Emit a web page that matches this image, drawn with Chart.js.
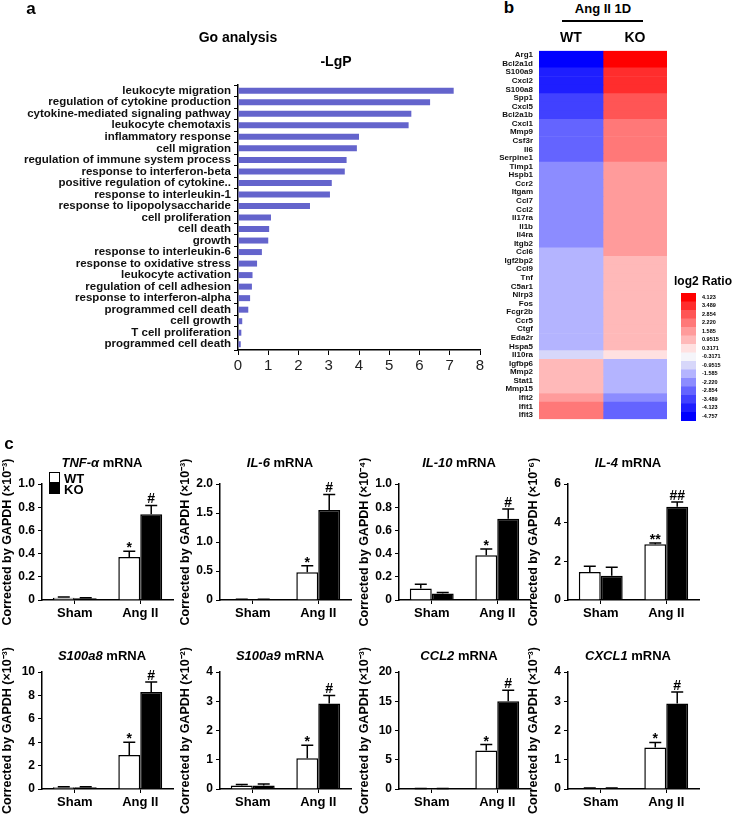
<!DOCTYPE html>
<html>
<head>
<meta charset="utf-8">
<script src="https://cdn.jsdelivr.net/npm/chart.js@4/dist/chart.umd.min.js"></script>
<style>
  body { margin: 0; background: #fff; }
  #fig { position: relative; width: 734px; height: 819px; overflow: hidden; background: #fff;
         font-family: 'Liberation Sans', Arial, sans-serif; color: #000; }
  #fig canvas { position: absolute; }
  .t { position: absolute; font-weight: bold; white-space: nowrap; line-height: 1; z-index: 2; }
  .box { position: absolute; width: 9px; height: 9px; border: 1.5px solid #000; z-index: 2; }
</style>
</head>
<body>
<div id="fig"></div>
<script>
// ---- panel a: GO analysis ----
const goTerms = [
  'leukocyte migration', 'regulation of cytokine production', 'cytokine-mediated signaling pathway',
  'leukocyte chemotaxis', 'inflammatory response', 'cell migration', 'regulation of immune system process',
  'response to interferon-beta', 'positive regulation of cytokine..', 'response to interleukin-1',
  'response to lipopolysaccharide', 'cell proliferation', 'cell death', 'growth', 'response to interleukin-6',
  'response to oxidative stress', 'leukocyte activation', 'regulation of cell adhesion',
  'response to interferon-alpha', 'programmed cell death', 'cell growth', 'T cell proliferation',
  'programmed cell death'
];
const goScores = [7.13, 6.35, 5.73, 5.64, 4.0, 3.93, 3.59, 3.53, 3.1, 3.04, 2.38, 1.09, 1.03, 1.0,
                  0.79, 0.63, 0.48, 0.46, 0.4, 0.34, 0.14, 0.11, 0.09];
const goTicks = [0, 1, 2, 3, 4, 5, 6, 7, 8];

// ---- panel b: heatmap ----
const genes = ['Arg1', 'Bcl2a1d', 'S100a9', 'Cxcl2', 'S100a8', 'Spp1', 'Cxcl5', 'Bcl2a1b', 'Cxcl1', 'Mmp9',
  'Csf3r', 'Il6', 'Serpine1', 'Timp1', 'Hspb1', 'Ccr2', 'Itgam', 'Ccl7', 'Ccl2', 'Il17ra', 'Il1b', 'Il4ra',
  'Itgb2', 'Ccl6', 'Igf2bp2', 'Ccl9', 'Tnf', 'C5ar1', 'Nlrp3', 'Fos', 'Fcgr2b', 'Ccr5', 'Ctgf', 'Eda2r',
  'Hspa5', 'Il10ra', 'Igfbp6', 'Mmp2', 'Stat1', 'Mmp15', 'Ifit2', 'Ifit1', 'Ifit3'];
const wtLog2 = [-4.7, -4.6, -4.1, -4.0, -4.0, -3.5, -3.4, -3.4, -2.9, -2.8, -2.8, -2.8, -2.8,
  -2.2, -2.2, -2.2, -2.2, -2.2, -2.2, -2.2, -2.2, -2.2, -2.2, -1.6,
  -1.6, -1.6, -1.6, -1.6, -1.6, -1.6, -1.6, -1.6, -1.6, -1.6, -1.6, -0.95,
  0.95, 0.95, 0.95, 0.95, 1.6, 2.2, 2.2];
const koLog2 = [4.3, 4.2, 3.5, 3.5, 3.4, 2.9, 2.8, 2.8, 2.2, 2.2, 2.2, 2.2, 2.2,
  1.6, 1.6, 1.6, 1.6, 1.6, 1.6, 1.6, 1.6, 1.6, 1.6, 1.6,
  0.95, 0.95, 0.95, 0.95, 0.95, 0.95, 0.95, 0.95, 0.95, 0.95, 0.95, 0.32,
  -1.6, -1.6, -1.6, -1.6, -2.2, -2.9, -2.9];
const ratioLevels = [4.123, 3.489, 2.854, 2.220, 1.585, 0.9515, 0.3171, -0.3171, -0.9515, -1.585,
  -2.220, -2.854, -3.489, -4.123, -4.757];
const ratioLabels = ['4.123', '3.489', '2.854', '2.220', '1.585', '0.9515', '0.3171', '-0.3171', '-0.9515',
  '-1.585', '-2.220', '-2.854', '-3.489', '-4.123', '-4.757'];
const ratioColors = ['#ff0000', '#ff2d2d', '#ff5555', '#ff7878', '#ff9b9b', '#ffb9b9', '#ffe1e1', '#f5f5fa',
  '#d7d7fa', '#b4b4ff', '#8c8cff', '#6464ff', '#4141ff', '#1e1eff', '#0000ff'];

// ---- panel c: qPCR ----
const groups = ['Sham', 'Ang II'];
const qGenes = ['TNF-α', 'IL-6', 'IL-10', 'IL-4', 'S100a8', 'S100a9', 'CCL2', 'CXCL1'];
const qExp = ['⁻³', '⁻³', '⁻⁴', '⁻⁶', '⁻³', '⁻²', '⁻³', '⁻³'];
const wtMean = [[0.02, 0.37], [0.01, 0.48], [0.10, 0.385], [1.45, 2.88], [0.15, 2.9], [0.12, 1.05], [0.05, 6.6], [0.02, 1.42]];
const wtSem  = [[0.005, 0.05], [0.003, 0.11], [0.035, 0.055], [0.3, 0.07], [0.05, 1.1], [0.03, 0.45], [0.02, 1.0], [0.01, 0.17]];
const koMean = [[0.015, 0.74], [0.01, 1.55], [0.055, 0.70], [1.25, 4.82], [0.15, 8.3], [0.12, 2.92], [0.05, 15.0], [0.02, 2.92]];
const koSem  = [[0.004, 0.075], [0.003, 0.27], [0.01, 0.085], [0.45, 0.25], [0.05, 0.85], [0.05, 0.28], [0.02, 1.9], [0.01, 0.4]];
const wtMarks = [['', '*'], ['', '*'], ['', '*'], ['', '**'], ['', '*'], ['', '*'], ['', '*'], ['', '*']];
const koMarks = [['', '#'], ['', '#'], ['', '#'], ['', '##'], ['', '#'], ['', '#'], ['', '#'], ['', '#']];
const yMax  = [1, 2, 1, 6, 10, 4, 20, 4];
const yStep = [0.2, 0.5, 0.2, 2, 2, 1, 5, 1];
const yDec  = [1, 1, 1, 0, 0, 0, 0, 0];

const FONT = "'Liberation Sans', Arial, sans-serif";
Chart.defaults.font.family = FONT;
Chart.defaults.color = '#000';
Chart.defaults.animation = false;

const fig = document.getElementById('fig');
function addCanvas(x, y, w, h) {
  const c = document.createElement('canvas');
  c.width = w; c.height = h;
  c.style.left = x + 'px'; c.style.top = y + 'px';
  c.style.width = w + 'px'; c.style.height = h + 'px';
  fig.appendChild(c);
  return c;
}
function addText(html, x, y, size, anchor) {
  const d = document.createElement('div');
  d.className = 't';
  d.innerHTML = html;
  d.style.fontSize = size + 'px';
  d.style.left = x + 'px'; d.style.top = y + 'px';
  d.style.transform = anchor === 'left' ? 'translate(0,-50%)' : 'translate(-50%,-50%)';
  fig.appendChild(d);
  return d;
}

// panel a
addText('a', 31, 8, 17, 'center');
addText('Go analysis', 238, 37, 14);
addText('-LgP', 336, 61, 14);
new Chart(addCanvas(0, 0, 495, 380), {
  type: 'bar',
  data: {
    labels: goTerms,
    datasets: [{ data: goScores, backgroundColor: '#6464cc', categoryPercentage: 1, barPercentage: 0.52 }]
  },
  options: {
    indexAxis: 'y', responsive: false, devicePixelRatio: 1,
    layout: { padding: { top: 85, right: 15, left: 0, bottom: 0 } },
    plugins: { legend: { display: false }, tooltip: { enabled: false } },
    scales: {
      y: {
        ticks: { font: { size: 11.5, weight: 'bold' }, color: '#111', padding: 3, autoSkip: false },
        grid: { drawOnChartArea: false, tickLength: 4, color: '#000' },
        border: { color: '#000', width: 1.5 },
        afterFit: s => { s.width = 238; }
      },
      x: {
        min: goTicks[0], max: goTicks[goTicks.length - 1],
        ticks: { stepSize: 1, font: { size: 15 }, color: '#222', padding: 2 },
        grid: { drawOnChartArea: false, tickLength: 5, color: '#000' },
        border: { color: '#000', width: 1.5 },
        afterFit: s => { s.height = 30; }
      }
    }
  }
});

// panel b
addText('b', 509, 7, 17);
addText('Ang II 1D', 603, 8, 13);
const bar = document.createElement('div');
bar.style.cssText = 'position:absolute;left:562px;top:20px;width:81px;height:2px;background:#000;';
fig.appendChild(bar);
addText('WT', 571, 37, 14);
addText('KO', 635, 37, 14);
addText('log2 Ratio', 674, 281, 12, 'left');

function colorFor(v) {
  let best = 0;
  ratioLevels.forEach((l, i) => { if (Math.abs(l - v) < Math.abs(ratioLevels[best] - v)) best = i; });
  return ratioColors[best];
}
const legendPlugin = {
  id: 'ratioLegend',
  afterDraw(chart) {
    const ctx = chart.ctx;
    const x0 = 186, y0 = 253, w = 15, h = 8.5;
    ctx.save();
    ratioLevels.forEach((l, i) => {
      ctx.fillStyle = ratioColors[i];
      ctx.fillRect(x0, y0 + i * h, w, h + 0.5);
      ctx.fillStyle = '#000';
      ctx.font = 'bold 5.5px ' + FONT;
      ctx.textBaseline = 'middle';
      ctx.fillText(ratioLabels[i], x0 + w + 6, y0 + i * h + h / 2);
    });
    ctx.restore();
  }
};
new Chart(addCanvas(495, 40, 239, 390), {
  type: 'bar',
  data: {
    labels: genes,
    datasets: [
      { data: genes.map(() => [0, 1]), backgroundColor: wtLog2.map(colorFor) },
      { data: genes.map(() => [1, 2]), backgroundColor: koLog2.map(colorFor) }
    ]
  },
  options: {
    indexAxis: 'y', responsive: false, devicePixelRatio: 1,
    datasets: { bar: { barPercentage: 1, categoryPercentage: 1, borderWidth: 0 } },
    layout: { padding: { top: 5, right: 67, left: 0, bottom: 10 } },
    plugins: { legend: { display: false }, tooltip: { enabled: false } },
    scales: {
      y: {
        stacked: true,
        ticks: { font: { size: 8, weight: 'bold' }, color: '#111', padding: 6, autoSkip: false },
        grid: { display: false, drawTicks: false },
        border: { display: false },
        afterFit: s => { s.width = 44; }
      },
      x: { stacked: false, min: 0, max: 2, display: false }
    }
  },
  plugins: [legendPlugin]
});

// panel c
addText('c', 9, 443, 17);
const errPlugin = {
  id: 'errBars',
  afterDatasetsDraw(chart) {
    const ctx = chart.ctx, ys = chart.scales.y;
    chart.data.datasets.forEach((ds, di) => {
      chart.getDatasetMeta(di).data.forEach((el, j) => {
        const top = ys.getPixelForValue(ds.data[j] + ds.sem[j]);
        ctx.save();
        ctx.strokeStyle = '#000'; ctx.lineWidth = 1.5;
        ctx.beginPath();
        ctx.moveTo(el.x, el.y); ctx.lineTo(el.x, top);
        ctx.moveTo(el.x - 6, top); ctx.lineTo(el.x + 6, top);
        ctx.stroke();
        const m = ds.marks[j];
        if (m) {
          ctx.fillStyle = '#000';
          ctx.font = 'bold 14px ' + FONT;
          ctx.textAlign = 'center';
          ctx.textBaseline = 'alphabetic';
          ctx.fillText(m, el.x, m[0] === '*' ? top + 1 : top - 2);
        }
        ctx.restore();
      });
    });
  }
};

const axisX = [42, 220, 399, 568];
function qpcrChart(k) {
  const row = k < 4 ? 0 : 1;
  const ax = axisX[k % 4];
  const top = row === 0 ? 440 : 628;
  const area = row === 0 ? 116 : 117;
  const xh = row === 0 ? 34 : 30;
  addText('<i>' + qGenes[k] + '</i> mRNA', ax + 60, row === 0 ? 462 : 655, 13);
  new Chart(addCanvas(ax - 42, top, 177, 44 + area + xh), {
    type: 'bar',
    data: {
      labels: groups,
      datasets: [
        { label: 'WT', data: wtMean[k], sem: wtSem[k], marks: wtMarks[k],
          backgroundColor: '#fff', borderColor: '#000', borderWidth: 1.5 },
        { label: 'KO', data: koMean[k], sem: koSem[k], marks: koMarks[k],
          backgroundColor: '#000', borderColor: '#000', borderWidth: 1.5 }
      ]
    },
    options: {
      responsive: false, devicePixelRatio: 1,
      datasets: { bar: { categoryPercentage: 0.67, barPercentage: 1 } },
      layout: { padding: { top: 44, right: 4, left: 0, bottom: 0 } },
      plugins: { legend: { display: false }, tooltip: { enabled: false } },
      scales: {
        y: {
          min: 0, max: yMax[k],
          ticks: { stepSize: yStep[k], font: { size: 12, weight: 'bold' }, padding: 3,
                   callback: v => v === 0 ? '0' : v.toFixed(yDec[k]) },
          grid: { drawOnChartArea: false, tickLength: 4, color: '#000' },
          border: { color: '#000', width: 1.5 },
          title: { display: true, text: 'Corrected by GAPDH (×10' + qExp[k] + ')',
                   font: { size: 12.5, weight: 'bold' }, padding: 0 },
          afterFit: s => { s.width = 42; }
        },
        x: {
          ticks: { font: { size: 13, weight: 'bold' }, padding: 2 },
          grid: { drawOnChartArea: false, offset: false, tickLength: 4, color: '#000' },
          border: { color: '#000', width: 1.5 },
          afterFit: s => { s.height = xh; }
        }
      }
    },
    plugins: [errPlugin]
  });
}
qGenes.forEach((g, k) => qpcrChart(k));

// legend in first qPCR panel
const b1 = document.createElement('div'); b1.className = 'box';
b1.style.cssText += 'left:49px;top:472px;background:#fff;';
const b2 = document.createElement('div'); b2.className = 'box';
b2.style.cssText += 'left:49px;top:483px;background:#000;';
fig.appendChild(b1); fig.appendChild(b2);
addText('WT', 64, 478, 13, 'left');
addText('KO', 64, 489, 13, 'left');
</script>
</body>
</html>
